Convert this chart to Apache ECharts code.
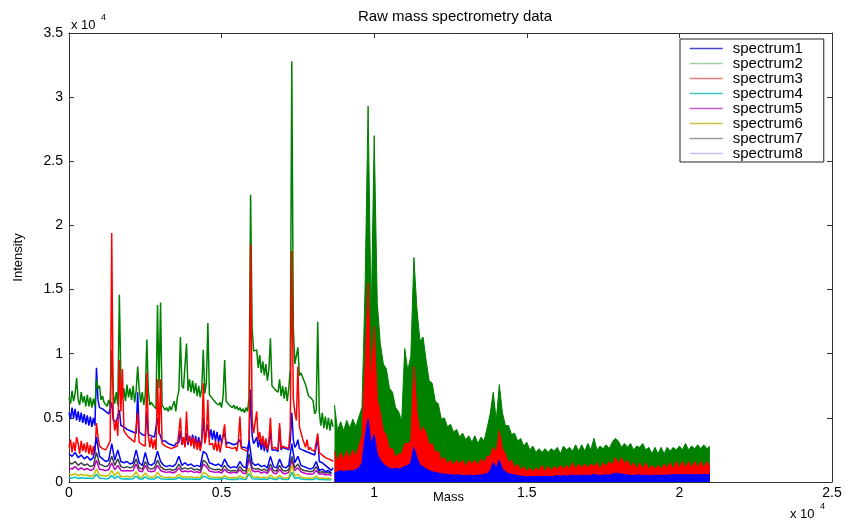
<!DOCTYPE html>
<html>
<head>
<meta charset="utf-8">
<title>Raw mass spectrometry data</title>
<script src="https://cdn.jsdelivr.net/npm/echarts@6/dist/echarts.min.js"></script>
<style>
  html, body { margin: 0; padding: 0; background: #ffffff; }
  #chart { width: 846px; height: 524px; }
</style>
</head>
<body>
<div id="chart"></div>
<script>
// Sampling of the low-mass part (0 .. 8650) for the three main spectra
const FINE_START = 0, FINE_STEP = 50;
// Sampling of the low-mass part (0 .. 8600) for the five faint spectra
const COARSE_START = 0, COARSE_STEP = 100;
// Sampling of the densely recorded high-mass part (8700 .. 21000)
const HIGH_START = 8700, HIGH_STEP = 100;

const seriesNames = ['spectrum1', 'spectrum2', 'spectrum3', 'spectrum4',
                     'spectrum5', 'spectrum6', 'spectrum7', 'spectrum8'];

const xTickLabels = ['0', '0.5', '1', '1.5', '2', '2.5'];
const yTickLabels = ['0', '0.5', '1', '1.5', '2', '2.5', '3', '3.5'];

// spectrum1, low-mass part
const spectrum1Low = [
  5400, 4900, 5800, 5000, 5700, 4800, 5500, 4700, 5400, 4600,
  5300, 4500, 5200, 4400, 5100, 4300, 5000, 4400, 8900, 6400,
  5800, 5800, 5700, 5600, 5500, 5400, 5300, 5300, 6200, 4800,
  4900, 4700, 4600, 5600, 4400, 4500, 4300, 4300, 4100, 4100,
  4000, 4000, 3900, 3900, 3800, 7000, 3900, 3900, 3700, 3700,
  3600, 5500, 3700, 3700, 3600, 3600, 3500, 3500, 5000, 3900,
  4000, 3200, 3300, 3200, 3100, 3000, 3000, 2900, 2900, 2800,
  3000, 3000, 3100, 4000, 2900, 3500, 2800, 3800, 2900, 3600,
  3000, 3700, 2900, 3600, 2800, 3500, 2700, 3400, 5000, 3200,
  3900, 4500, 3400, 4100, 3300, 4000, 3200, 3900, 3100, 3700,
  3000, 3600, 3800, 2900, 3100, 3000, 3000, 2900, 2900, 2800,
  3000, 2900, 3300, 2700, 2800, 2700, 2700, 2600, 3100, 7200,
  3600, 3000, 3200, 3500, 2700, 3300, 2500, 3200, 2400, 3100,
  2300, 3000, 4000, 2500, 2600, 2500, 2500, 2400, 4200, 2500,
  2700, 2600, 2600, 2500, 2500, 3200, 5400, 3300, 2700, 2900,
  3300, 2600, 2700, 2500, 2500, 2400, 2400, 2300, 2300, 2200,
  2200, 2100, 2100, 3500, 1600, 1700, 1500, 1500, 1300, 1300,
  1100, 1100, 900, 1100
];

// spectrum2, low-mass part
const spectrum2Low = [
  6600, 6100, 7100, 6300, 6900, 8100, 6400, 6000, 7000, 6200,
  6700, 5900, 6800, 5900, 6600, 5800, 6500, 5900, 8000, 7300,
  7500, 6400, 6700, 6200, 6300, 5900, 6400, 5800, 10300, 6900,
  6100, 7000, 6000, 14600, 7900, 6500, 7300, 6300, 7600, 6600,
  7300, 6400, 7500, 6200, 7100, 9000, 7200, 6200, 7000, 6000,
  6800, 11100, 7100, 6000, 6200, 6000, 6100, 5700, 13800, 7300,
  14000, 6000, 5900, 5600, 5800, 5500, 5900, 5600, 6000, 6300,
  5500, 6600, 7100, 11300, 7500, 7300, 7400, 10800, 7100, 8000,
  7000, 7900, 6900, 7700, 6700, 7500, 6600, 7300, 10300, 6900,
  7700, 12400, 6800, 6800, 6500, 6500, 6200, 6300, 6000, 6200,
  5800, 6700, 9500, 6300, 6300, 6000, 6100, 5800, 6000, 5700,
  5900, 5600, 5800, 5500, 5700, 5400, 5800, 5500, 6600, 22400,
  12000, 10200, 10100, 10300, 8900, 9900, 8500, 9400, 8300, 9200,
  7900, 8800, 11200, 7500, 7500, 7200, 7200, 7000, 8000, 6700,
  7500, 6500, 7400, 6300, 7300, 8800, 32800, 12000, 9200, 9300,
  10500, 8300, 8500, 8200, 7900, 7600, 7500, 6700, 6800, 6500,
  6300, 5300, 5600, 12500, 5500, 4400, 5400, 4200, 5100, 4100,
  5000, 4000, 4900, 4300
];

// spectrum3, low-mass part
const spectrum3Low = [
  2700, 3300, 2300, 3100, 2400, 3500, 3000, 2200, 3200, 2400,
  3000, 2300, 3100, 2200, 2900, 2100, 2800, 2200, 4600, 3500,
  2800, 2800, 2600, 2600, 2500, 2700, 2700, 3200, 19400, 5200,
  4000, 4800, 3600, 9500, 5500, 8800, 4000, 3800, 3700, 3500,
  3400, 3300, 3200, 3100, 3000, 5400, 3100, 3100, 2900, 2900,
  2800, 8500, 3600, 2700, 3500, 2600, 3300, 2500, 8000, 3700,
  8000, 3000, 2900, 2800, 2700, 2700, 2600, 2600, 2700, 2700,
  2800, 2800, 2900, 5000, 2900, 3500, 2700, 5500, 3000, 3600,
  2800, 3500, 2600, 3400, 2500, 3200, 2400, 3100, 7700, 3000,
  3600, 6400, 2900, 3000, 3000, 2500, 3200, 2400, 3100, 2300,
  3000, 2900, 4500, 2700, 2800, 2700, 2600, 2600, 2700, 2700,
  2400, 3200, 5100, 2600, 2600, 2500, 2500, 2400, 3000, 18500,
  4800, 3800, 3800, 5500, 3200, 3900, 2900, 3600, 2700, 3400,
  2500, 3200, 5000, 2600, 2700, 2700, 2600, 2500, 4600, 2600,
  2800, 2700, 2700, 2600, 2600, 4200, 18000, 6500, 5400, 4800,
  9000, 4300, 4200, 3400, 3500, 2700, 3300, 2500, 2700, 2500,
  2500, 2400, 2400, 3800, 2300, 2200, 2100, 2000, 1900, 1800,
  1800, 1700, 1700, 1600
];

// spectrum4 .. spectrum8, low-mass part
const spectrum4Low = [
  350, 300, 380, 280, 330, 290, 320, 270, 300, 600,
  320, 280, 260, 280, 500, 280, 450, 260, 240, 260,
  240, 260, 450, 240, 230, 400, 250, 230, 240, 420,
  260, 230, 220, 230, 210, 230, 350, 230, 240, 230,
  240, 210, 230, 210, 450, 380, 240, 230, 210, 230,
  210, 300, 220, 200, 210, 200, 280, 210, 200, 650,
  260, 230, 240, 210, 230, 200, 320, 210, 200, 300,
  210, 200, 220, 750, 270, 350, 230, 210, 200, 190,
  200, 280, 190, 200, 180, 190, 170
];
const spectrum5Low = [
  1100, 1000, 1200, 950, 1100, 950, 1050, 900, 1000, 1700,
  1000, 950, 900, 950, 1500, 950, 1300, 900, 850, 900,
  850, 900, 1400, 850, 800, 1300, 850, 800, 850, 1300,
  900, 800, 750, 800, 700, 800, 1100, 800, 850, 800,
  850, 750, 800, 700, 1400, 1200, 850, 800, 750, 800,
  700, 1000, 750, 700, 750, 700, 950, 700, 650, 1800,
  900, 800, 850, 700, 800, 650, 1100, 700, 650, 1000,
  700, 650, 750, 1700, 900, 1100, 800, 700, 650, 600,
  650, 900, 600, 650, 550, 600, 500
];
const spectrum6Low = [
  600, 550, 650, 500, 600, 500, 550, 450, 500, 1000,
  550, 500, 450, 500, 900, 500, 800, 450, 400, 450,
  400, 450, 800, 400, 380, 700, 420, 380, 400, 750,
  450, 380, 350, 380, 340, 380, 600, 380, 400, 380,
  400, 350, 380, 340, 750, 650, 400, 380, 350, 380,
  340, 500, 360, 330, 350, 330, 480, 340, 320, 1100,
  450, 380, 400, 340, 380, 320, 550, 340, 320, 500,
  340, 320, 360, 1300, 450, 600, 380, 340, 320, 300,
  320, 450, 300, 320, 280, 300, 260
];
const spectrum7Low = [
  1500, 1400, 1600, 1300, 1500, 1300, 1400, 1200, 1300, 2300,
  1400, 1300, 1200, 1300, 2000, 1300, 1800, 1200, 1100, 1200,
  1100, 1200, 1800, 1100, 1000, 1600, 1100, 1000, 1100, 1700,
  1200, 1000, 950, 1000, 900, 1000, 1400, 1000, 1100, 1000,
  1100, 950, 1000, 900, 1700, 1500, 1100, 1000, 950, 1000,
  900, 1300, 950, 850, 900, 850, 1200, 900, 850, 2200,
  1100, 1000, 1050, 900, 1000, 850, 1400, 900, 850, 1300,
  900, 850, 950, 2000, 1100, 1400, 1000, 900, 850, 800,
  850, 1200, 750, 800, 700, 750, 650
];
const spectrum8Low = [
  2200, 2000, 2300, 1900, 2100, 1800, 2000, 1700, 1900, 3500,
  2000, 1800, 1600, 1700, 3000, 1700, 2500, 1600, 1500, 1600,
  1400, 1500, 2500, 1500, 1300, 2300, 1400, 1300, 1500, 2400,
  1600, 1300, 1200, 1300, 1200, 1400, 2000, 1300, 1500, 1300,
  1400, 1200, 1300, 1200, 2400, 2200, 1500, 1400, 1300, 1400,
  1200, 1800, 1300, 1100, 1200, 1100, 1600, 1200, 1100, 3200,
  1500, 1300, 1400, 1200, 1300, 1100, 2000, 1200, 1100, 1800,
  1200, 1100, 1300, 3000, 1500, 2000, 1300, 1200, 1100, 1000,
  1100, 1600, 900, 1000, 800, 900, 700
];

// High-mass part: upper envelope of the dense traces
const spectrum2High = [
  6000, 4000, 4700, 4000, 4800, 4200, 4900, 4300, 5100, 5800,
  15000, 29300, 12500, 27000, 14000, 10800, 9200, 8800, 7300, 7000,
  5800, 5500, 4700, 10400, 8700, 9800, 17500, 13500, 11000, 11300,
  9500, 7900, 7700, 6300, 6100, 4900, 5000, 4300, 4500, 3900,
  4100, 3500, 3800, 3300, 3600, 3100, 3600, 3000, 3500, 3200,
  4200, 5300, 7000, 4800, 7600, 5400, 4400, 4400, 3700, 3800,
  3200, 3400, 2800, 3100, 2500, 2800, 2300, 2600, 2300, 2600,
  2300, 2600, 2400, 2700, 2200, 2800, 2500, 2700, 2400, 2900,
  2400, 2900, 2400, 3000, 2500, 3400, 2500, 2800, 2600, 2900,
  2600, 3100, 3400, 3200, 2700, 3000, 2700, 3000, 2500, 2800,
  2700, 3000, 2500, 2700, 2200, 2700, 2200, 2700, 2200, 2700,
  2400, 2700, 2500, 2800, 2500, 3000, 2500, 2800, 2600, 2900,
  2600, 2900, 2600, 2800
];
const spectrum3High = [
  2400, 1600, 2300, 1700, 2400, 1800, 2500, 2000, 2800, 3600,
  9000, 15500, 7500, 12100, 6500, 5400, 4000, 3600, 2600, 2600,
  1900, 2200, 2200, 3000, 3000, 3200, 9000, 5500, 3800, 4300,
  3800, 2900, 3000, 2300, 2400, 1700, 1900, 1400, 1700, 1300,
  1700, 1400, 1700, 1200, 1700, 1400, 1700, 1300, 1800, 1500,
  2000, 2000, 2700, 2300, 4000, 2600, 2200, 1500, 1700, 1100,
  1400, 900, 1200, 800, 1100, 800, 1100, 900, 1300, 800,
  1200, 900, 1200, 1000, 1300, 1000, 1300, 1000, 1500, 1000,
  1400, 1100, 1400, 1100, 1400, 1200, 1500, 1000, 1500, 1200,
  1600, 1300, 1900, 1400, 1900, 1400, 1700, 1200, 1500, 1000,
  1500, 1000, 1500, 1000, 1300, 1000, 1300, 1000, 1400, 1100,
  1500, 1000, 1600, 1100, 1600, 1100, 1600, 1100, 1600, 1100,
  1600, 1100, 1600, 1200
];
const spectrum1High = [
  700, 800, 900, 800, 900, 850, 900, 950, 1100, 1500,
  3500, 4900, 3000, 3700, 2200, 1700, 1400, 1200, 1100, 1000,
  1100, 1000, 1100, 1200, 1300, 1500, 2700, 1900, 1300, 1200,
  1000, 900, 800, 750, 700, 650, 600, 600, 550, 550,
  550, 550, 500, 500, 550, 500, 500, 550, 550, 600,
  650, 900, 1500, 1100, 1700, 1000, 800, 650, 600, 550,
  500, 450, 450, 400, 450, 400, 450, 450, 400, 450,
  450, 400, 450, 500, 450, 500, 450, 500, 550, 500,
  500, 550, 500, 550, 500, 600, 550, 500, 550, 550,
  550, 600, 700, 650, 600, 600, 550, 550, 500, 550,
  550, 500, 550, 500, 500, 550, 500, 550, 500, 550,
  550, 600, 550, 600, 550, 600, 550, 600, 550, 600,
  550, 600, 550, 600
];

// Plot colours (line colour order) and the lighter legend swatches
const lineColors = ['#0000ff', '#008000', '#ff0000', '#00bfbf',
                    '#bf00bf', '#bfbf00', '#404040', '#0000ff'];
const legendColors = ['#4a4ad0', '#9fd29f', '#f07a7a', '#40c4c4',
                      '#c060c8', '#c8c840', '#9a9a9a', '#c4c4f4'];

function toPairs(start, step, values) {
  return values.map((v, i) => [start + i * step, v]);
}

const lowSets = [
  [spectrum1Low, FINE_START, FINE_STEP],
  [spectrum2Low, FINE_START, FINE_STEP],
  [spectrum3Low, FINE_START, FINE_STEP],
  [spectrum4Low, COARSE_START, COARSE_STEP],
  [spectrum5Low, COARSE_START, COARSE_STEP],
  [spectrum6Low, COARSE_START, COARSE_STEP],
  [spectrum7Low, COARSE_START, COARSE_STEP],
  [spectrum8Low, COARSE_START, COARSE_STEP]
];

const series = [];
lowSets.forEach((s, i) => {
  series.push({
    name: seriesNames[i],
    type: 'line',
    data: toPairs(s[1], s[2], s[0]),
    symbol: 'none',
    sampling: false,
    silent: true,
    lineStyle: { color: lineColors[i], width: 1.5 },
    itemStyle: { color: lineColors[i] },
    z: 2
  });
});

// Dense high-mass traces, drawn back to front so they stack visually
[[1, spectrum2High, 3], [2, spectrum3High, 4], [0, spectrum1High, 5]].forEach(([idx, vals, z]) => {
  series.push({
    name: seriesNames[idx],
    type: 'line',
    data: toPairs(HIGH_START, HIGH_STEP, vals),
    symbol: 'none',
    silent: true,
    lineStyle: { color: lineColors[idx], width: 1 },
    itemStyle: { color: lineColors[idx] },
    areaStyle: { color: lineColors[idx], opacity: 1 },
    z: z
  });
});

const FONT = 'Liberation Sans, Arial, Helvetica, sans-serif';
const axisColor = '#333333';

const chart = echarts.init(document.getElementById('chart'), null, { renderer: 'canvas' });

const tickFmtX = v => xTickLabels[Math.round(v / 5000)];
const tickFmtY = v => yTickLabels[Math.round(v / 5000)];

chart.setOption({
  animation: false,
  backgroundColor: '#ffffff',
  title: {
    text: 'Raw mass spectrometry data',
    left: 450,
    top: 4,
    textAlign: 'center',
    textStyle: { fontFamily: FONT, fontSize: 15, fontWeight: 'normal', color: '#000000' }
  },
  grid: { left: 69, right: 14, top: 33, bottom: 42, show: false },
  legend: {
    orient: 'vertical',
    left: 680,
    top: 39,
    padding: [2, 21, 1, 9],
    itemWidth: 33,
    itemHeight: 10,
    itemGap: 0,
    backgroundColor: '#ffffff',
    borderColor: '#222222',
    borderWidth: 1,
    borderRadius: 0,
    selectedMode: false,
    textStyle: { fontFamily: FONT, fontSize: 15, color: '#000000', lineHeight: 15, padding: [0, 0, 0, 5] },
    data: seriesNames.map((n, i) => ({
      name: n,
      // only the swatch line is shown, without a marker
      itemStyle: { color: legendColors[i], opacity: 0, borderWidth: 0 },
      lineStyle: { color: legendColors[i], width: 1.5, opacity: 1 }
    }))
  },
  xAxis: [{
    type: 'value',
    min: 0, max: 25000, interval: 5000,
    name: 'Mass',
    nameLocation: 'middle',
    nameGap: 9,
    nameMoveOverlap: false,
    nameTextStyle: { fontFamily: FONT, fontSize: 13, color: '#000000', padding: [0, 4, 0, 0] },
    axisLine: { show: true, lineStyle: { color: axisColor, width: 1 } },
    axisTick: { show: true, inside: true, length: 5, lineStyle: { color: axisColor } },
    axisLabel: { margin: 4, formatter: tickFmtX, fontFamily: FONT, fontSize: 14, color: '#000000' },
    splitLine: { show: false }
  }, {
    type: 'value',
    position: 'top',
    min: 0, max: 25000, interval: 5000,
    axisLine: { show: true, onZero: false, lineStyle: { color: axisColor, width: 1 } },
    axisTick: { show: true, inside: true, length: 5, lineStyle: { color: axisColor } },
    axisLabel: { show: false },
    splitLine: { show: false }
  }],
  yAxis: [{
    type: 'value',
    min: 0, max: 35000, interval: 5000,
    name: 'Intensity',
    nameLocation: 'middle',
    nameGap: 44,
    nameRotate: 90,
    nameMoveOverlap: false,
    nameTextStyle: { fontFamily: FONT, fontSize: 13, color: '#000000' },
    axisLine: { show: true, lineStyle: { color: axisColor, width: 1 } },
    axisTick: { show: true, inside: true, length: 5, lineStyle: { color: axisColor } },
    axisLabel: { margin: 6, formatter: tickFmtY, fontFamily: FONT, fontSize: 14, color: '#000000' },
    splitLine: { show: false }
  }, {
    type: 'value',
    position: 'right',
    min: 0, max: 35000, interval: 5000,
    axisLine: { show: true, onZero: false, lineStyle: { color: axisColor, width: 1 } },
    axisTick: { show: true, inside: true, length: 5, lineStyle: { color: axisColor } },
    axisLabel: { show: false },
    splitLine: { show: false }
  }],
  graphic: [
    { type: 'text', left: 71, top: 19, style: { text: 'x 10', font: '13px ' + FONT, fill: '#000000' } },
    { type: 'text', left: 101, top: 13, style: { text: '4', font: '9px ' + FONT, fill: '#000000' } },
    { type: 'text', left: 790, top: 508, style: { text: 'x 10', font: '13px ' + FONT, fill: '#000000' } },
    { type: 'text', left: 820, top: 502, style: { text: '4', font: '9px ' + FONT, fill: '#000000' } }
  ],
  series: series
});
</script>
</body>
</html>
